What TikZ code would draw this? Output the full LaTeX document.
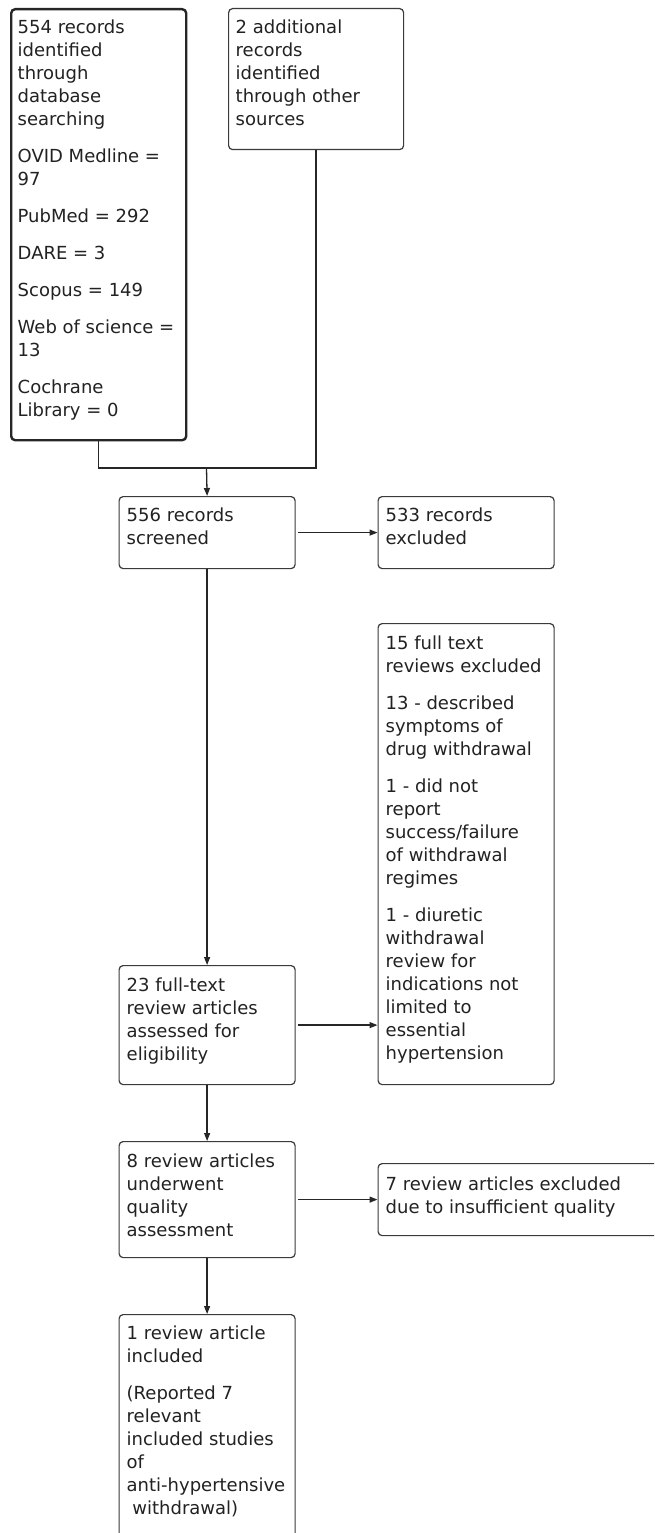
\documentclass[tikz,border=0pt]{standalone}
\usepackage{fontspec}
\setmainfont{DejaVu Sans}
\usetikzlibrary{arrows.meta}
\definecolor{edge}{HTML}{3A3A3A}
\definecolor{ink}{HTML}{222222}
\newcommand\fl{\rule{0pt}{16pt}}
\tikzset{
  box/.style={draw=edge, line width=1.2pt, rounded corners=4pt, inner sep=0pt, anchor=north west, fill=white},
  thickbox/.style={box, draw=black!85, line width=2.4pt},
  txt/.style={anchor=north west, inner sep=0pt, align=left, text=ink, font=\fontsize{18}{23}\selectfont},
  link/.style={draw=black!85, line width=1.3pt},
  arr/.style={link, -{Triangle[length=8pt,width=6pt]}},
}
\begin{document}
\begin{tikzpicture}[x=1pt,y=-1pt]
\useasboundingbox (0,0) rectangle (654,1533);
\clip (0,0) rectangle (654,1533);
% boxes
\node[thickbox, minimum width=175pt, minimum height=431pt] (A) at (10,8) {};
\node[box, minimum width=175pt, minimum height=141pt] (B) at (228,8) {};
\node[box, minimum width=176pt, minimum height=72pt] (C) at (118.5,496) {};
\node[box, minimum width=176pt, minimum height=72pt] (D) at (377.5,496) {};
\node[box, minimum width=176pt, minimum height=461pt] (E) at (377.5,623) {};
\node[box, minimum width=176pt, minimum height=119pt] (F) at (118.5,965) {};
\node[box, minimum width=176pt, minimum height=116pt] (G) at (118.5,1141) {};
\node[box, minimum width=300pt, minimum height=72pt] (H) at (377.5,1163) {};
\node[box, minimum width=176pt, minimum height=260pt] (I) at (118.5,1314) {};
% texts
\node[txt] (At) at (17.5,17.5) {\fl 554 records\\identified\\through\\database\\searching\\[14pt]OVID Medline =\\97\\[14pt]PubMed = 292\\[14pt]DARE = 3\\[14pt]Scopus = 149\\[14pt]Web of science =\\13\\[14pt]Cochrane\\Library = 0};
\node[txt] (Bt) at (235.5,17.5) {\fl 2 additional\\records\\identified\\through other\\sources};
\node[txt] (Ct) at (126.5,505) {\fl 556 records\\screened};
\node[txt] (Dt) at (385.5,505) {\fl 533 records\\excluded};
\node[txt] (Et) at (385.5,633) {\fl 15 full text\\reviews excluded\\[14pt]13 - described\\symptoms of\\drug withdrawal\\[14pt]1 - did not\\report\\success/failure\\of withdrawal\\regimes\\[14pt]1 - diuretic\\withdrawal\\review for\\indications not\\limited to\\essential\\hypertension};
\node[txt] (Ft) at (126.5,975) {\fl 23 full-text\\review articles\\assessed for\\eligibility};
\node[txt] (Gt) at (126.5,1151) {\fl 8 review articles\\underwent\\quality\\assessment};
\node[txt] (Ht) at (385.5,1174) {\fl 7 review articles excluded\\due to insufficient quality};
\node[txt] (It) at (126.5,1323.5) {\fl 1 review article\\included\\[14pt](Reported 7\\relevant\\included studies\\of\\anti-hypertensive\\\hspace*{5.7pt}withdrawal)};
% connectors
\coordinate (J) at (206.5,468);
\draw[link] (A.south) -- (A.south |- J) -- (B.south |- J) -- (B.south);
\draw[arr] (J) -- (C.north);
\draw[arr] ([xshift=2pt]C.east) -- (D.west);
\draw[arr] (C.south) -- (F.north);
\draw[arr] ([xshift=2pt]F.east) -- (F.east -| E.west);
\draw[arr] (F.south) -- (G.north);
\draw[arr] ([xshift=2pt]G.east) -- (G.east -| H.west);
\draw[arr] (G.south) -- (I.north);
\end{tikzpicture}
\end{document}
